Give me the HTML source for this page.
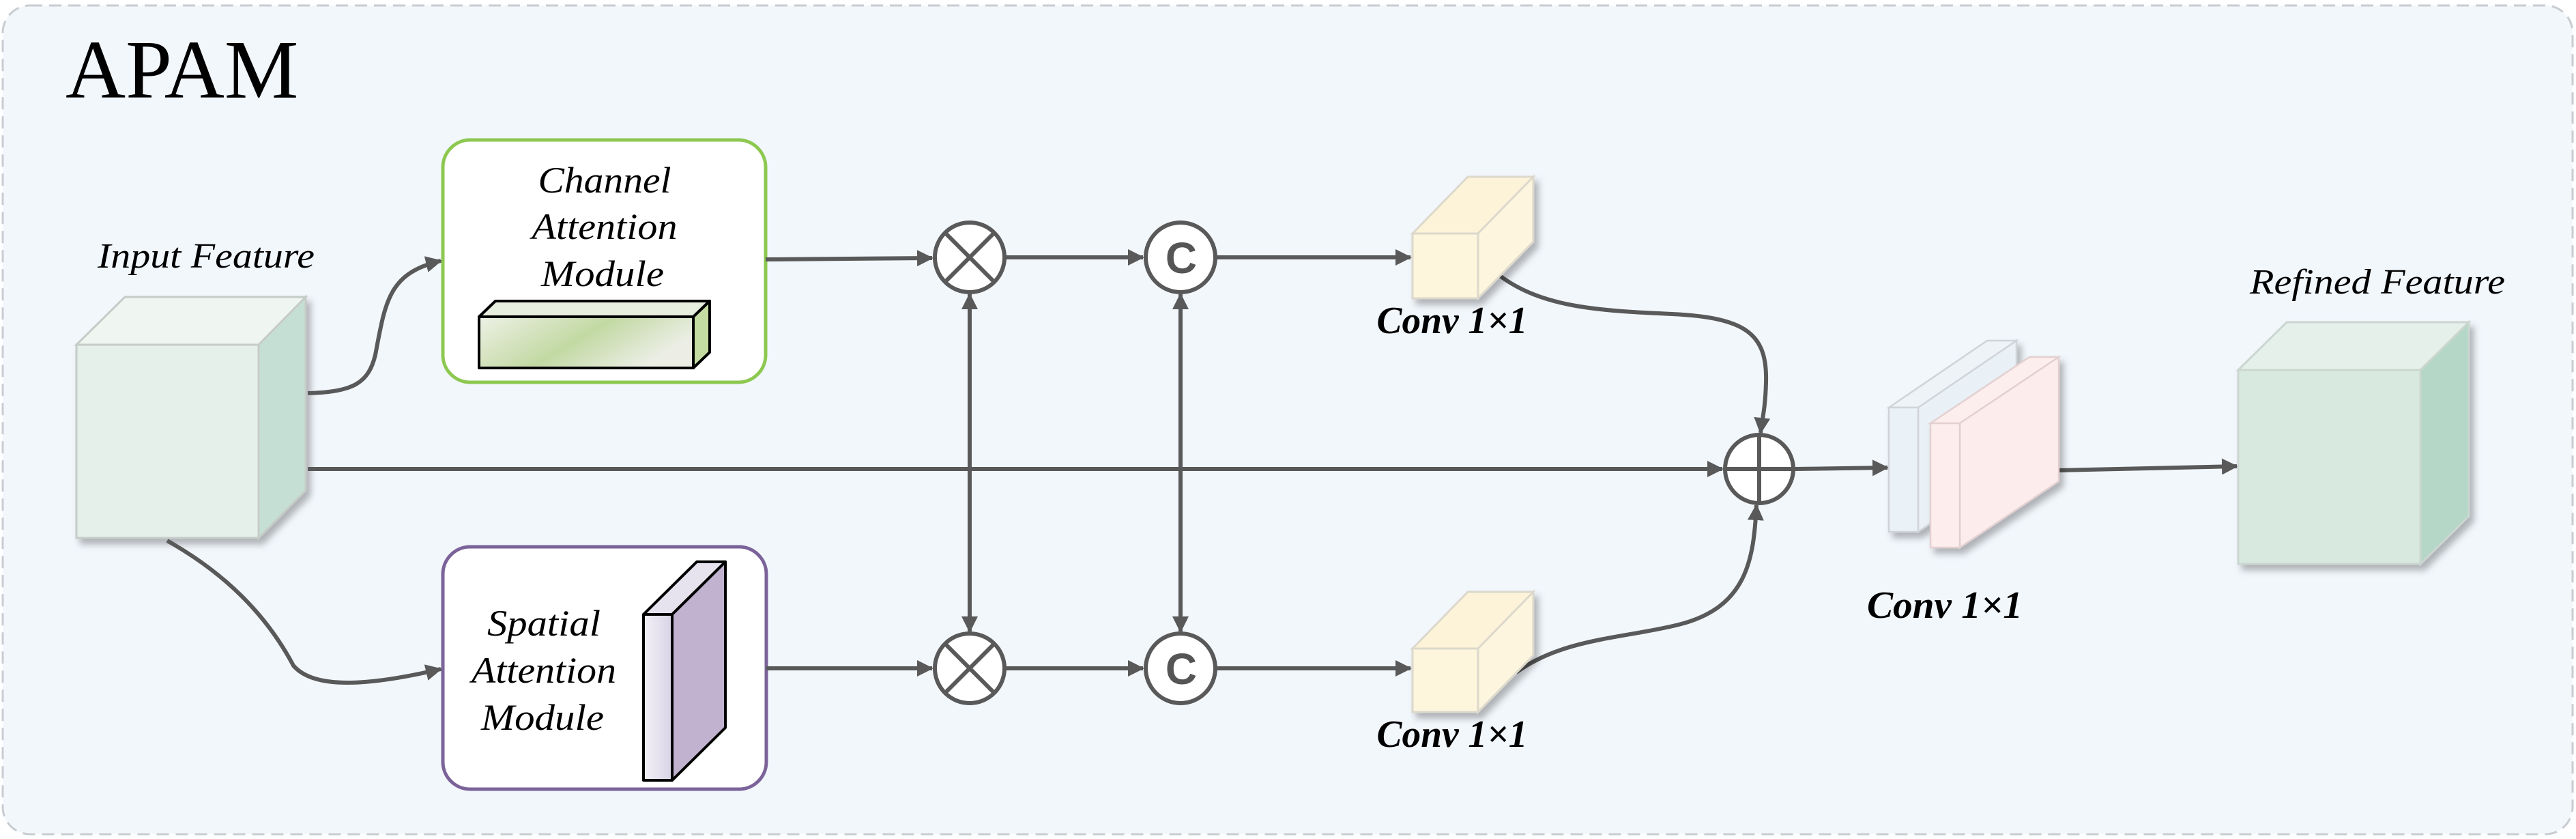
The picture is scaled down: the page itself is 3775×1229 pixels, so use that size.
<!DOCTYPE html>
<html><head><meta charset="utf-8"><style>
html,body{margin:0;padding:0;background:#fff}
svg{display:block}
text{font-family:"Liberation Serif",serif}
text.sans{font-family:"Liberation Sans","DejaVu Sans",sans-serif}
</style></head><body>
<svg width="3775" height="1229" viewBox="0 0 3775 1229" xmlns="http://www.w3.org/2000/svg">
<defs>
<marker id="ah" markerWidth="26" markerHeight="26" refX="22" refY="12" orient="auto" markerUnits="userSpaceOnUse">
<path d="M0,0 L24,12 L0,24 Z" fill="#595959"/>
</marker>
<marker id="ahs" markerWidth="26" markerHeight="26" refX="2" refY="12" orient="auto" markerUnits="userSpaceOnUse">
<path d="M24,0 L0,12 L24,24 Z" fill="#595959"/>
</marker>
<filter id="sh" x="-20%" y="-20%" width="140%" height="140%">
<feDropShadow dx="6" dy="8" stdDeviation="5" flood-color="#000" flood-opacity="0.28"/>
</filter>
<linearGradient id="barg" x1="0" y1="0" x2="1" y2="0.4">
<stop offset="0" stop-color="#eef1e6"/><stop offset="0.55" stop-color="#c2d9a3"/><stop offset="1" stop-color="#eceee6"/>
</linearGradient>
<linearGradient id="slg" x1="0" y1="0" x2="1" y2="0">
<stop offset="0" stop-color="#f3f1f7"/><stop offset="1" stop-color="#d9d3e6"/>
</linearGradient>
</defs>
<rect width="3775" height="1229" fill="#ffffff"/>
<rect x="4" y="8" width="3766" height="1214" rx="40" fill="#f2f7fc" stroke="#c9ccd0" stroke-width="3" stroke-dasharray="18,10"/>
<text x="96" y="143" font-size="122" fill="#000">APAM</text>

<!-- Input cube -->
<g filter="url(#sh)" stroke="#c6ccc8" stroke-width="3">
<polygon points="112,505 183,435 448,435 379,505" fill="#eff5f1"/>
<polygon points="379,505 448,435 448,718 379,788" fill="#c5dfd4"/>
<rect x="112" y="505" width="267" height="283" fill="#e6f0eb"/>
</g>
<text x="302" y="392" font-size="52" font-style="italic" text-anchor="middle" textLength="318" lengthAdjust="spacingAndGlyphs">Input Feature</text>

<!-- Channel box -->
<rect x="649" y="205" width="473" height="355" rx="40" fill="#fff" stroke="#8dc850" stroke-width="5"/>
<g font-size="54" font-style="italic" text-anchor="middle">
<text x="886" y="282" textLength="195" lengthAdjust="spacingAndGlyphs">Channel</text>
<text x="886" y="350" textLength="213" lengthAdjust="spacingAndGlyphs">Attention</text>
<text x="883" y="419" textLength="180" lengthAdjust="spacingAndGlyphs">Module</text>
</g>
<g stroke="#000" stroke-width="4" stroke-linejoin="round">
<polygon points="702,464 726,441 1040,441 1016,464" fill="#e8eedd"/>
<polygon points="1016,464 1040,441 1040,516 1016,539" fill="#c4dca2"/>
<rect x="702" y="464" width="314" height="75" fill="url(#barg)"/>
</g>

<!-- Spatial box -->
<rect x="649" y="801" width="474" height="355" rx="40" fill="#fff" stroke="#7b6399" stroke-width="5"/>
<g font-size="54" font-style="italic" text-anchor="middle">
<text x="797" y="931" textLength="166" lengthAdjust="spacingAndGlyphs">Spatial</text>
<text x="797" y="1000" textLength="212" lengthAdjust="spacingAndGlyphs">Attention</text>
<text x="795" y="1069" textLength="180" lengthAdjust="spacingAndGlyphs">Module</text>
</g>
<g stroke="#000" stroke-width="4" stroke-linejoin="round">
<polygon points="943,900 1021,823 1063,823 985,900" fill="#e6e3ee"/>
<polygon points="985,900 1063,823 1063,1066 985,1143" fill="#c1b2d0"/>
<rect x="943" y="900" width="42" height="243" fill="url(#slg)"/>
</g>

<!-- connectors -->
<g stroke="#595959" stroke-width="6" fill="none">
<path d="M451,576 C520,574 540,560 550,520 C565,440 570,400 646,382" marker-end="url(#ah)"/>
<path d="M245,792 C330,840 390,900 430,975 C460,1010 540,1005 646,980" marker-end="url(#ah)"/>
<line x1="451" y1="687" x2="2524" y2="687" marker-end="url(#ah)"/>
<line x1="1122" y1="380" x2="1366" y2="378" marker-end="url(#ah)"/>
<line x1="1123" y1="979" x2="1366" y2="979" marker-end="url(#ah)"/>
<line x1="1473" y1="377" x2="1675" y2="377" marker-end="url(#ah)"/>
<line x1="1473" y1="979" x2="1675" y2="979" marker-end="url(#ah)"/>
<line x1="1782" y1="377" x2="2067" y2="377" marker-end="url(#ah)"/>
<line x1="1782" y1="979" x2="2067" y2="979" marker-end="url(#ah)"/>
<line x1="1421" y1="431" x2="1421" y2="925" marker-start="url(#ahs)" marker-end="url(#ah)"/>
<line x1="1730" y1="431" x2="1730" y2="925" marker-start="url(#ahs)" marker-end="url(#ah)"/>
<path d="M2198,404 C2260,450 2340,455 2450,460 C2560,465 2590,490 2588,560 C2587,600 2582,615 2580,634" marker-end="url(#ah)"/>
<path d="M2222,985 C2290,935 2380,935 2460,915 C2560,890 2570,820 2574,740" marker-end="url(#ah)"/>
<line x1="2630" y1="687" x2="2766" y2="685" marker-end="url(#ah)"/>
<line x1="3017" y1="689" x2="3278" y2="683" marker-end="url(#ah)"/>
</g>

<!-- operator circles -->
<g stroke="#595959" stroke-width="6" fill="#fff">
<circle cx="1421" cy="377" r="51"/>
<circle cx="1421" cy="979" r="51"/>
<circle cx="1730" cy="377" r="51"/>
<circle cx="1730" cy="979" r="51"/>
<circle cx="2578" cy="687" r="50"/>
<path d="M1385,341 L1457,413 M1457,341 L1385,413 M1385,943 L1457,1015 M1457,943 L1385,1015 M2528,687 L2628,687 M2578,637 L2578,737"/>
</g>
<g font-weight="bold" font-size="64" fill="#555" text-anchor="middle">
<text class="sans" x="1731" y="400">C</text>
<text class="sans" x="1731" y="1002">C</text>
</g>

<!-- Conv cubes -->
<g filter="url(#sh)" stroke="#dcd8cc" stroke-width="3">
<polygon points="2070,342 2151,259 2247,259 2166,342" fill="#fdf3d8"/>
<polygon points="2166,342 2247,259 2247,354 2166,437" fill="#fdf5dd"/>
<rect x="2070" y="342" width="96" height="95" fill="#fdf5dc"/>
<polygon points="2070,950 2151,867 2247,867 2166,950" fill="#fdf3d8"/>
<polygon points="2166,950 2247,867 2247,960 2166,1043" fill="#fdf5dd"/>
<rect x="2070" y="950" width="96" height="93" fill="#fdf5dc"/>
</g>
<g font-size="56" font-style="italic" font-weight="bold" text-anchor="middle">
<text x="2128" y="488" textLength="221" lengthAdjust="spacingAndGlyphs">Conv 1×1</text>
<text x="2128" y="1094" textLength="221" lengthAdjust="spacingAndGlyphs">Conv 1×1</text>
<text x="2850" y="905" textLength="228" lengthAdjust="spacingAndGlyphs">Conv 1×1</text>
</g>

<!-- output slabs -->
<g filter="url(#sh)" stroke="#d0d4d8" stroke-width="2.5">
<polygon points="2768,597 2912,499 2955,499 2811,597" fill="#edf3f7"/>
<polygon points="2811,597 2955,499 2955,681 2811,779" fill="#e9f1f6"/>
<rect x="2768" y="597" width="43" height="182" fill="#eaf2f7"/>
</g>
<g filter="url(#sh)" stroke="#e3d0d0" stroke-width="2.5">
<polygon points="2829,620 2974,523 3017,523 2872,620" fill="#fdeeee"/>
<polygon points="2872,620 3017,523 3017,705 2872,802" fill="#fdecec"/>
<rect x="2829" y="620" width="43" height="182" fill="#fdeded"/>
</g>

<!-- Refined cube -->
<g filter="url(#sh)" stroke="#ccd6d0" stroke-width="3">
<polygon points="3280,542 3351,472 3618,472 3547,542" fill="#e6f0eb"/>
<polygon points="3547,542 3618,472 3618,756 3547,826" fill="#b4d7c8"/>
<rect x="3280" y="542" width="267" height="284" fill="#d8e9e0"/>
</g>
<text x="3484" y="430" font-size="52" font-style="italic" text-anchor="middle" textLength="374" lengthAdjust="spacingAndGlyphs">Refined Feature</text>
</svg>
</body></html>
